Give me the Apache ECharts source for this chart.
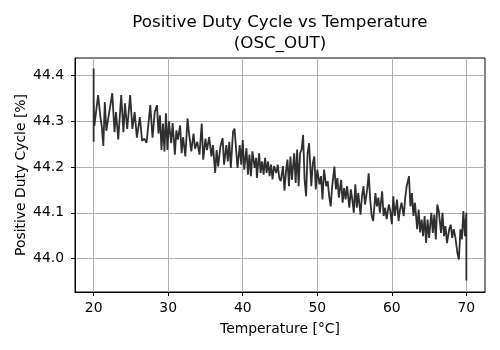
<!DOCTYPE html>
<html>
<head>
<meta charset="utf-8">
<script src="https://cdn.jsdelivr.net/npm/echarts@6/dist/echarts.min.js"></script>
<style>
  html, body { margin: 0; padding: 0; background: #fff; }
  #main { width: 500px; height: 350px; }
</style>
</head>
<body>
<div id="main"></div>
<script>
// measured temperature (°C) and positive duty cycle (%) of OSC_OUT
const temperature = [
  20.0, 20.0, 20.0, 20.0, 20.0, 20.1, 20.4, 20.6, 20.9, 21.1, 21.3, 21.5, 21.7, 21.9, 22.2, 22.5, 22.8,
  23.0, 23.3, 23.7, 24.0, 24.2, 24.5, 24.9, 25.2, 25.5, 25.8, 26.2, 26.5, 26.8, 27.1, 27.6, 27.9, 28.2,
  28.5, 28.7, 28.9, 29.1, 29.3, 29.5, 29.7, 29.9, 30.1, 30.4, 30.6, 30.9, 31.1, 31.3, 31.6, 31.8, 32.0, 32.3,
  32.6, 32.8, 33.1, 33.4, 33.6, 33.9, 34.2, 34.5, 34.7, 35.0, 35.2, 35.5, 35.8, 36.0, 36.3, 36.5, 36.7, 37.0,
  37.3, 37.5, 37.8, 38.0, 38.2, 38.4, 38.7, 38.9, 39.1, 39.3, 39.6, 39.8, 40.0, 40.2, 40.5, 40.7, 40.9, 41.1, 41.3, 41.6,
  41.8, 41.9, 42.2, 42.4, 42.6, 42.8, 43.0, 43.2, 43.4, 43.6, 43.8, 44.0, 44.2, 44.5, 44.7, 44.9, 45.1, 45.4, 45.6, 45.8,
  46.0, 46.2, 46.4, 46.6, 46.9, 47.1, 47.3, 47.5, 47.7, 47.9, 48.1, 48.3, 48.5, 48.7, 48.9, 49.2, 49.4, 49.6, 49.8, 50.0,
  50.3, 50.5, 50.7, 50.9, 51.2, 51.4, 51.6, 51.8, 52.0, 52.3, 52.5, 52.7, 52.9, 53.2, 53.4, 53.6, 53.8, 54.0, 54.3, 54.5, 54.7,
  54.9, 55.1, 55.3, 55.5, 55.8, 56.0, 56.2, 56.4, 56.7, 56.9, 57.1, 57.3, 57.5, 57.8, 58.0, 58.2, 58.4, 58.7, 58.9, 59.1,
  59.3, 59.6, 59.8, 60.0, 60.2, 60.4, 60.7, 60.9, 61.1, 61.3, 61.6, 61.8, 62.0, 62.3, 62.5, 62.7, 62.9, 63.1, 63.4, 63.6, 63.8,
  64.0, 64.2, 64.4, 64.6, 64.8, 65.0, 65.3, 65.5, 65.7, 65.9, 66.1, 66.3, 66.6, 66.8, 67.0, 67.2, 67.4, 67.7, 67.9, 68.1,
  68.3, 68.5, 68.8, 69.0, 69.2, 69.4, 69.6, 69.8, 69.9, 70.0, 70.0, 70.0, 70.0, 70.0
]
const dutyCycle = [
  44.38, 44.32, 44.415, 44.255, 44.35, 44.29, 44.33, 44.357, 44.31, 44.287, 44.246, 44.342, 44.279, 44.30, 44.33, 44.361, 44.276,
  44.32, 44.26, 44.357, 44.276, 44.339, 44.283, 44.357, 44.283, 44.32, 44.264, 44.309, 44.257, 44.262, 44.253, 44.335, 44.264, 44.32,
  44.335, 44.273, 44.313, 44.237, 44.295, 44.234, 44.317, 44.237, 44.30, 44.252, 44.296, 44.227, 44.28, 44.26, 44.291, 44.23, 44.265, 44.223,
  44.306, 44.273, 44.234, 44.273, 44.24, 44.255, 44.227, 44.295, 44.216, 44.262, 44.237, 44.265, 44.223, 44.248, 44.187, 44.237, 44.201, 44.244,
  44.263, 44.205, 44.248, 44.212, 44.255, 44.198, 44.277, 44.284, 44.241, 44.198, 44.248, 44.205, 44.259, 44.194, 44.241, 44.183, 44.227, 44.18, 44.234, 44.198,
  44.22, 44.176, 44.23, 44.187, 44.212, 44.183, 44.22, 44.187, 44.212, 44.18, 44.205, 44.173, 44.202, 44.187, 44.205, 44.176, 44.169, 44.202, 44.148, 44.19,
  44.216, 44.158, 44.223, 44.172, 44.23, 44.165, 44.238, 44.158, 44.23, 44.238, 44.27, 44.172, 44.136, 44.23, 44.252, 44.158, 44.208, 44.223, 44.151, 44.194,
  44.162, 44.18, 44.129, 44.194, 44.158, 44.169, 44.136, 44.114, 44.158, 44.201, 44.151, 44.176, 44.133, 44.172, 44.122, 44.154, 44.129, 44.158, 44.111, 44.151, 44.129,
  44.10, 44.162, 44.111, 44.143, 44.096, 44.136, 44.158, 44.118, 44.151, 44.186, 44.129, 44.093, 44.082, 44.143, 44.114, 44.133, 44.10, 44.147, 44.093, 44.111,
  44.086, 44.118, 44.104, 44.075, 44.136, 44.093, 44.129, 44.082, 44.107, 44.122, 44.093, 44.133, 44.158, 44.18, 44.114, 44.143, 44.093, 44.122, 44.064, 44.107, 44.057,
  44.085, 44.049, 44.093, 44.034, 44.085, 44.045, 44.10, 44.056, 44.096, 44.042, 44.118, 44.104, 44.056, 44.10, 44.049, 44.071, 44.034, 44.064, 44.074, 44.045,
  44.064, 44.049, 44.012, 43.998, 44.064, 44.042, 44.104, 44.049, 44.078, 44.10, 44.02, 44.07, 43.952, 44.01
]
const xTicks = [20, 30, 40, 50, 60, 70]
const yTicks = [44.0, 44.1, 44.2, 44.3, 44.4]

const chart = echarts.init(document.getElementById('main'), null, { renderer: 'canvas' })

const font = 'DejaVu Sans'
const points = temperature.map((t, i) => [t, dutyCycle[i]])

const option = {
  animation: false,
  backgroundColor: '#fff',
  title: {
    text: 'Positive Duty Cycle vs Temperature\n(OSC_OUT)',
    left: 280,
    top: 12,
    padding: 0,
    textAlign: 'center',
    textStyle: {
      fontFamily: font,
      fontSize: 16.7,
      fontWeight: 'normal',
      color: '#000',
      lineHeight: 21
    }
  },
  grid: {
    left: 75,
    right: 15,
    top: 58,
    bottom: 58,
    show: true,
    borderColor: '#000',
    borderWidth: 1,
    backgroundColor: 'transparent'
  },
  xAxis: {
    type: 'value',
    min: 17.5,
    max: 72.5,
    name: 'Temperature [°C]',
    nameLocation: 'middle',
    nameGap: 30,
    nameMoveOverlap: false,
    nameTextStyle: { fontFamily: font, fontSize: 13.9, color: '#000' },
    axisLine: { show: true, lineStyle: { color: '#000', width: 1 } },
    axisTick: { show: true, inside: false, length: 4, customValues: xTicks, lineStyle: { color: '#000', width: 1 } },
    axisLabel: {
      fontFamily: font,
      fontSize: 13.9,
      color: '#000',
      margin: 9,
      customValues: xTicks,
      formatter: (v) => String(v)
    },
    splitLine: { show: true, lineStyle: { color: '#b0b0b0', width: 1 } }
  },
  yAxis: {
    type: 'value',
    min: 43.927,
    max: 44.438,
    name: 'Positive Duty Cycle [%]',
    nameLocation: 'middle',
    nameGap: 47,
    nameMoveOverlap: false,
    nameTextStyle: { fontFamily: font, fontSize: 13.9, color: '#000' },
    axisLine: { show: true, lineStyle: { color: '#000', width: 1 } },
    axisTick: { show: true, inside: false, length: 4, customValues: yTicks, lineStyle: { color: '#000', width: 1 } },
    axisLabel: {
      fontFamily: font,
      fontSize: 13.9,
      color: '#000',
      margin: 11,
      customValues: yTicks,
      formatter: (v) => v.toFixed(1)
    },
    splitLine: { show: true, lineStyle: { color: '#b0b0b0', width: 1 } }
  },
  series: [
    {
      type: 'line',
      data: points,
      showSymbol: false,
      symbol: 'none',
      lineStyle: { color: '#2f2f2f', width: 1.8 },
      itemStyle: { color: '#2f2f2f' }
    }
  ]
}

chart.setOption(option)
</script>
</body>
</html>
